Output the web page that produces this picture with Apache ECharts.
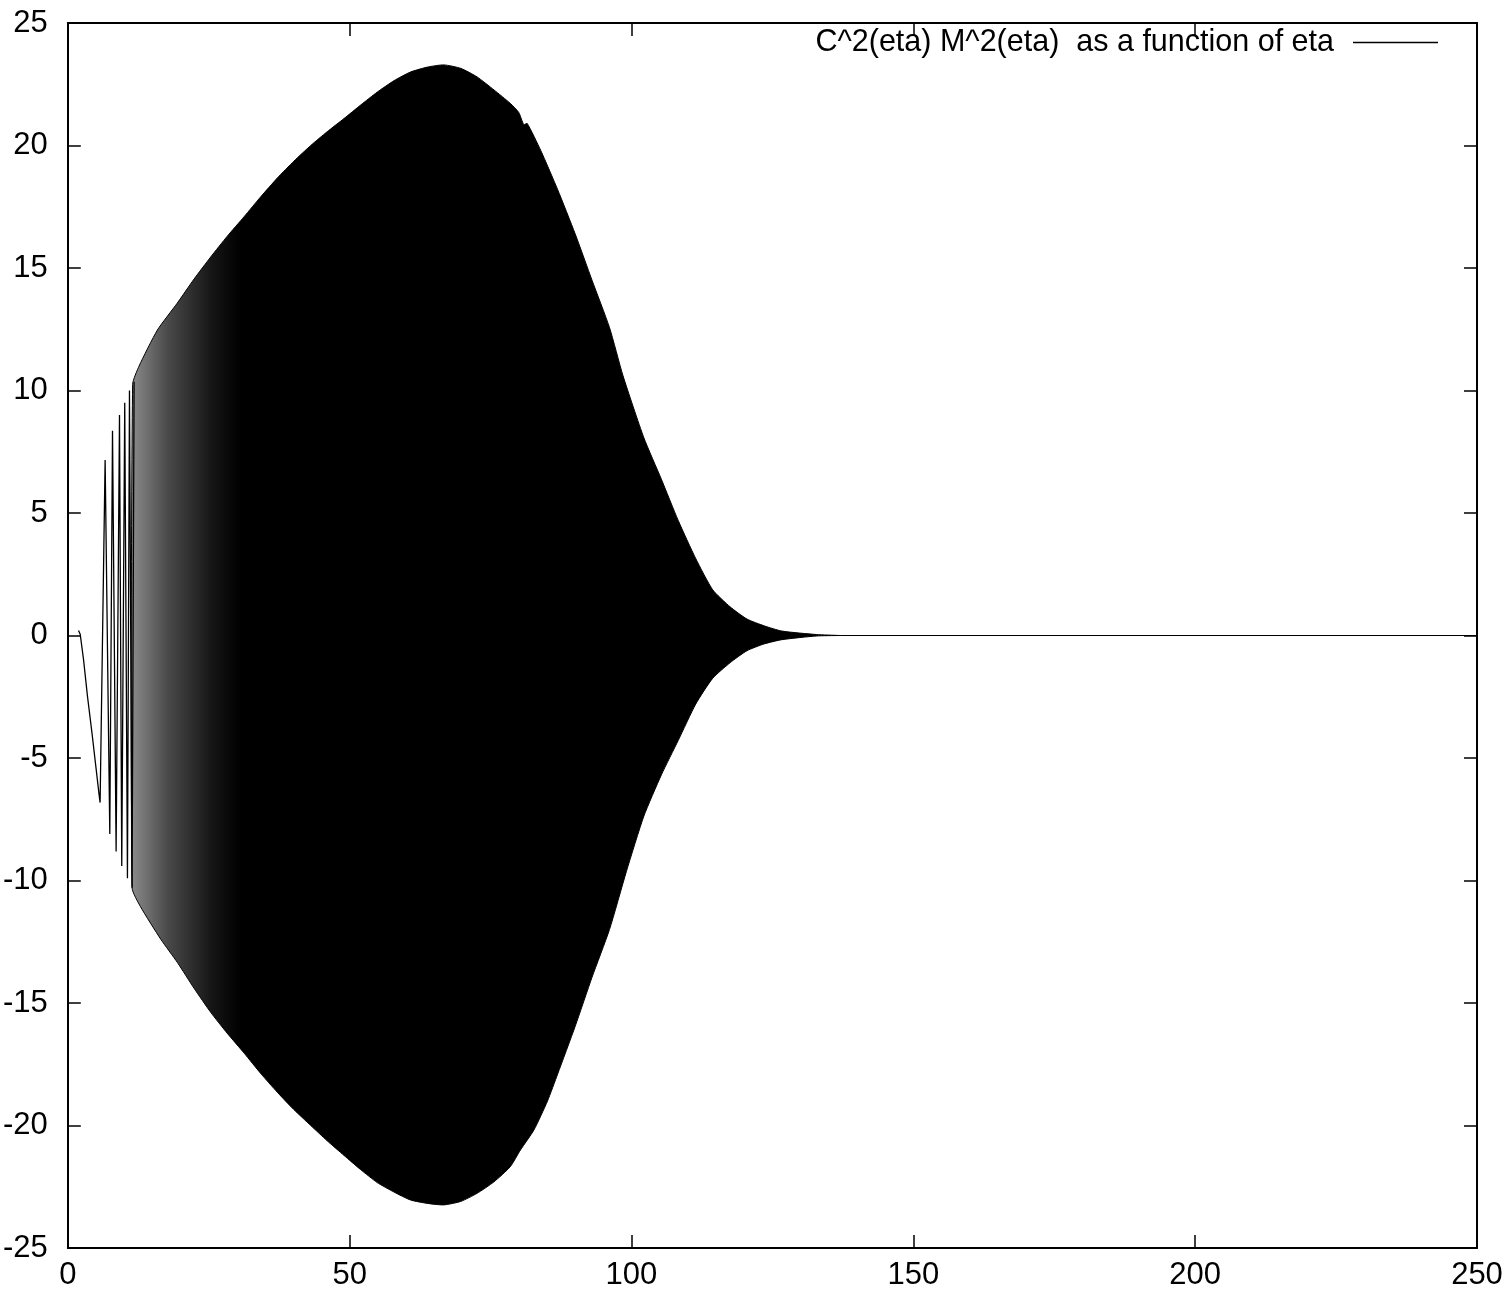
<!DOCTYPE html>
<html>
<head>
<meta charset="utf-8">
<title>C^2(eta) M^2(eta)</title>
<script src="https://cdn.jsdelivr.net/npm/echarts@6/dist/echarts.min.js"></script>
<style>
  html, body { margin: 0; padding: 0; background: #ffffff; }
  .Chart_Container { width: 1510px; height: 1307px; }
</style>
</head>
<body>
<div class="Chart_Container"></div>
<script>
//**************** data ****************//

var series_name = "C^2(eta) M^2(eta)  as a function of eta";

// axes
var x_min = 0;
var x_max = 250;
var x_step = 50;
var y_min = -25;
var y_max = 25;
var y_step = 5;

// first oscillations, read peak by peak
var early_eta = [1.9, 2.2, 2.8, 3.5, 4.3, 5.0, 5.5, 5.73, 6.62, 7.45, 7.93, 8.57, 9.17, 9.57, 10.1, 10.58, 10.94, 11.4, 11.76];
var early_value = [0.2, 0.05, -1.0, -2.5, -4.0, -5.4, -6.4, -6.82, 7.16, -8.1, 8.36, -8.82, 9.0, -9.41, 9.5, -9.91, 10.0, -10.3, 10.36];

// upper envelope of the dense part
var upper_eta = [11.5, 12.65, 15.9, 19.4, 22.4, 25.35, 28.3, 31.3, 34.2, 37.2, 40.1, 43.1, 46.0, 49.0, 51.95, 54.9, 57.9, 60.8, 63.8, 66.7, 69.7, 72.6, 75.6, 78.5, 80.0, 80.9, 81.5, 83.9, 86.9, 90.0, 93.0, 96.1, 98.5, 102.2, 105.3, 108.3, 111.4, 114.4, 117.5, 120.5, 123.6, 126.7, 132.8, 137];
var upper_value = [10.25, 11.0, 12.47, 13.56, 14.55, 15.45, 16.3, 17.1, 17.9, 18.68, 19.36, 20.0, 20.56, 21.1, 21.65, 22.18, 22.65, 23.0, 23.2, 23.29, 23.15, 22.8, 22.27, 21.72, 21.35, 20.85, 20.9, 19.8, 18.2, 16.4, 14.5, 12.57, 10.6, 8.07, 6.38, 4.69, 3.14, 1.87, 1.17, 0.67, 0.39, 0.18, 0.04, 0];

// lower envelope of the dense part
var lower_eta = [11.4, 12.9, 16.5, 19.45, 22.4, 25.35, 28.3, 31.3, 34.2, 37.2, 40.1, 43.1, 46.0, 49.0, 51.95, 54.9, 57.9, 60.8, 63.8, 66.7, 69.7, 72.6, 75.6, 78.5, 80.3, 82.7, 85.1, 86.9, 90.0, 93.0, 96.1, 99.1, 102.2, 105.3, 108.3, 111.4, 114.4, 117.5, 120.5, 123.6, 126.7, 132.8, 137];
var lower_value = [-10.3, -11.07, -12.4, -13.35, -14.4, -15.38, -16.24, -17.05, -17.87, -18.65, -19.35, -20.0, -20.62, -21.22, -21.8, -22.33, -22.72, -23.04, -23.18, -23.24, -23.1, -22.77, -22.3, -21.68, -21.0, -20.18, -19.0, -17.9, -15.96, -13.95, -12.0, -9.63, -7.37, -5.69, -4.28, -2.8, -1.75, -1.11, -0.62, -0.34, -0.17, -0.02, 0];

// flat tail
var tail_eta = [137, 250];
var tail_value = [0, 0];

//**************** chart ****************//

var chart_container = document.querySelector(".Chart_Container");
var chart = echarts.init(chart_container);
var font_family = "'Liberation Sans', Arial, sans-serif";
var font_size = 31;

function pair(xs, ys) {
  var out = [];
  for (var i = 0; i < xs.length; i++) {
    out.push([xs[i], ys[i]]);
  }
  return out;
}

// stripes of the first oscillations fade into solid black
function dense_fill() {
  return new echarts.graphic.LinearGradient(0, 0, 1, 0, [
    { offset: 0, color: "#8c8c8c" },
    { offset: 0.052, color: "#4a4a4a" },
    { offset: 0.115, color: "#151515" },
    { offset: 0.155, color: "#000000" },
    { offset: 1, color: "#000000" }
  ]);
}

// dense part drawn as one closed shape: upper edge out, lower edge back
function render_dense(params, api) {
  var points = [];
  for (var i = 0; i < upper_eta.length; i++) {
    points.push(api.coord([upper_eta[i], upper_value[i]]));
  }
  for (var j = lower_eta.length - 1; j >= 0; j--) {
    points.push(api.coord([lower_eta[j], lower_value[j]]));
  }
  return {
    type: "polygon",
    shape: { points: points, smooth: 0.2 },
    style: { fill: dense_fill(), stroke: "#000", lineWidth: 1 }
  };
}

function make_x_axis(position, show_label) {
  return {
    type: "value",
    position: position,
    min: x_min,
    max: x_max,
    interval: x_step,
    axisLine: { show: true, onZero: false, lineStyle: { color: "#000", width: 2 } },
    axisTick: { show: true, inside: true, length: 13, lineStyle: { color: "#000", width: 1.5 } },
    axisLabel: { show: show_label, color: "#000", fontSize: font_size, fontFamily: font_family, margin: 12 },
    splitLine: { show: false }
  };
}

function make_y_axis(position, show_label) {
  return {
    type: "value",
    position: position,
    min: y_min,
    max: y_max,
    interval: y_step,
    axisLine: { show: true, onZero: false, lineStyle: { color: "#000", width: 2 } },
    axisTick: { show: true, inside: true, length: 13, lineStyle: { color: "#000", width: 1.5 } },
    axisLabel: { show: show_label, color: "#000", fontSize: font_size, fontFamily: font_family, margin: 20 },
    splitLine: { show: false }
  };
}

var chart_option = {
  animation: false,
  backgroundColor: "#ffffff",
  grid: { left: 67, right: 33, top: 23, bottom: 59 },
  legend: {
    data: [series_name],
    right: 67,
    top: 22,
    align: "right",
    icon: "rect",
    itemWidth: 85,
    itemHeight: 1.5,
    textStyle: { color: "#000", fontSize: 30.5, fontFamily: font_family, padding: [0, 14, 0, 0] }
  },
  xAxis: [make_x_axis("bottom", true), make_x_axis("top", false)],
  yAxis: [make_y_axis("left", true), make_y_axis("right", false)],
  series: [
    {
      name: "dense",
      type: "custom",
      data: [0],
      silent: true,
      renderItem: render_dense
    },
    {
      name: "tail",
      type: "line",
      data: pair(tail_eta, tail_value),
      showSymbol: false,
      silent: true,
      lineStyle: { color: "#000", width: 1.2 },
      itemStyle: { color: "#000" }
    },
    {
      name: series_name,
      type: "line",
      data: pair(early_eta, early_value),
      showSymbol: false,
      silent: true,
      lineStyle: { color: "#000", width: 1.3 },
      itemStyle: { color: "#000" }
    }
  ]
};

chart.setOption(chart_option);
</script>
</body>
</html>
